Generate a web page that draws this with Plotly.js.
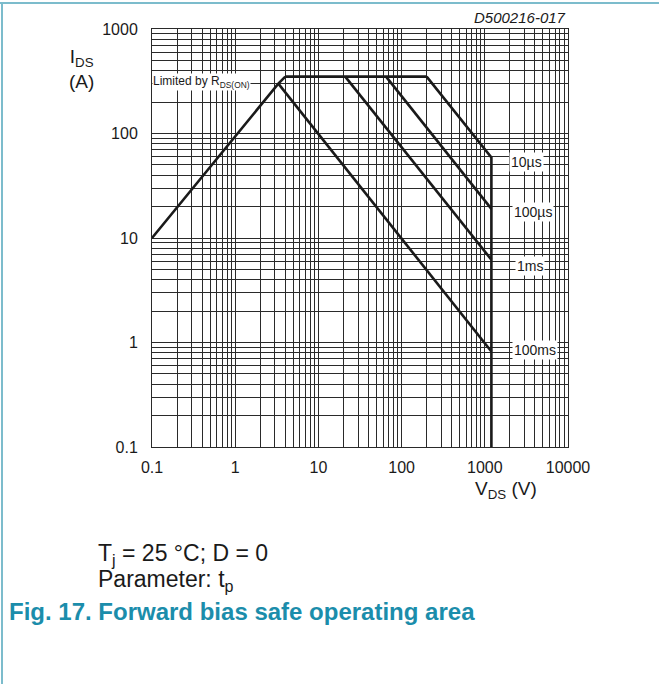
<!DOCTYPE html>
<html>
<head>
<meta charset="utf-8">
<script src="https://cdn.plot.ly/plotly-3.0.1.min.js"></script>
<style>
  html, body { margin:0; padding:0; background:#fff; }
  #wrap { position:relative; width:659px; height:684px; overflow:hidden; }
  #chart { position:absolute; left:0; top:0; width:659px; height:684px; }
  #bt { position:absolute; left:0; top:2px; width:659px; height:2px; background:#7cbccc; }
  #bl { position:absolute; left:1px; top:2px; width:2px; height:684px; background:#7cbccc; }
</style>
</head>
<body>
<div id="wrap"><div id="chart"></div><div id="bt"></div><div id="bl"></div></div>
<script>
// ---- data (V in volts, I in amperes) ----
const rdsonV  = [0.1, 3.3, 4.0];
const rdsonI  = [10, 300, 350];
const plateauV = [4.0, 200];
const plateauI = [350, 350];
const v10us  = [200, 1200, 1200];
const i10us  = [350, 59, 0.1];
const v100us = [65, 1200];
const i100us = [350, 19];
const v1ms   = [21, 1200];
const i1ms   = [350, 6.2];
const v100ms = [3.3, 1200];
const i100ms = [300, 0.82];

const curveLabels = ["10µs", "100µs", "1ms", "100ms"];
const labelV = [3200, 3800, 3450, 3980];
const labelI = [53.8, 17.8, 5.35, 0.853];

const xTickVals = [0.1, 1, 10, 100, 1000, 10000];
const xTickText = ["0.1", "1", "10", "100", "1000", "10000"];
const yTickVals = [0.1, 1, 10, 100, 1000];
const yTickText = ["0.1", "1", "10", "100", "1000"];

const lineStyle = {color:'#1a1a1a', width:2.6};
const series = [
  [rdsonV, rdsonI], [plateauV, plateauI], [v10us, i10us],
  [v100us, i100us], [v1ms, i1ms], [v100ms, i100ms]
];
const traces = series.map(s => ({
  x: s[0], y: s[1], type:'scatter', mode:'lines',
  line: lineStyle, hoverinfo:'skip', showlegend:false
}));

const font = "Liberation Sans, Arial, sans-serif";
const gridC = '#2a2a2a';
const txtC = '#1a1a1a';

const L = 152, T = 29, W = 416, H = 418;
function px(x){ return (x - L)/W; }
function py(y){ return 1 - (y - T)/H; }

const annotations = curveLabels.map((t, k) => ({
  x: Math.log10(labelV[k]), y: Math.log10(labelI[k]), xref:'x', yref:'y',
  xanchor:'center', yanchor:'middle',
  text: t, showarrow:false, bgcolor:'#ffffff', borderpad:1,
  font:{family:font, size:14, color:txtC}
}));
annotations.push(
  {x:0, y:Math.log10(311), xref:'paper', yref:'y', xanchor:'left', yanchor:'middle',
   text:'Limited by R<sub>DS(ON)</sub>', showarrow:false, bgcolor:'#ffffff', borderpad:0,
   font:{family:font, size:12, color:txtC}},
  {x:1, y:1, xref:'paper', yref:'paper', xanchor:'right', yanchor:'bottom', yshift:1,
   text:'<i>D500216-017</i>', showarrow:false, font:{family:font, size:15, color:txtC}},
  {x:px(81), y:py(69), xref:'paper', yref:'paper', xanchor:'center', yanchor:'middle',
   text:'I<sub>DS</sub><br>(A)', showarrow:false,
   align:'center', font:{family:font, size:19, color:txtC}},
  {x:px(506), y:py(490), xref:'paper', yref:'paper', xanchor:'center', yanchor:'middle',
   text:'V<sub>DS</sub> (V)', showarrow:false,
   font:{family:font, size:19, color:txtC}},
  {x:px(96), y:py(554), xref:'paper', yref:'paper', xanchor:'left', yanchor:'middle',
   text:'T<sub>j</sub> = 25 °C; D = 0', showarrow:false,
   font:{family:font, size:23, color:txtC}},
  {x:px(96), y:py(580), xref:'paper', yref:'paper', xanchor:'left', yanchor:'middle',
   text:'Parameter: t<sub>p</sub>', showarrow:false,
   font:{family:font, size:23, color:txtC}},
  {x:px(7), y:py(611), xref:'paper', yref:'paper', xanchor:'left', yanchor:'middle',
   text:'<b>Fig. 17. Forward bias safe operating area</b>', showarrow:false,
   font:{family:font, size:24, color:'#1b8dab'}}
);

const layout = {
  width:659, height:684,
  margin:{l:L, r:659-L-W, t:T, b:684-T-H, pad:0},
  paper_bgcolor:'#ffffff', plot_bgcolor:'#ffffff',
  showlegend:false,
  xaxis:{type:'log', range:[-1,4], tickmode:'array', tickvals:xTickVals, ticktext:xTickText,
    showgrid:true, gridcolor:gridC, gridwidth:1, zeroline:false,
    showline:true, linecolor:gridC, linewidth:1, mirror:true, ticks:'', ticklabelstandoff:6,
    tickfont:{family:font, size:16, color:txtC},
    minor:{dtick:'D1', showgrid:true, gridcolor:gridC, gridwidth:1, ticks:''}},
  yaxis:{type:'log', range:[-1,3], tickmode:'array', tickvals:yTickVals, ticktext:yTickText,
    showgrid:true, gridcolor:gridC, gridwidth:1, zeroline:false,
    showline:true, linecolor:gridC, linewidth:1, mirror:true, ticks:'', ticklabelstandoff:10,
    tickfont:{family:font, size:16, color:txtC},
    minor:{dtick:'D1', showgrid:true, gridcolor:gridC, gridwidth:1, ticks:''}},
  annotations: annotations
};

Plotly.newPlot('chart', traces, layout, {displayModeBar:false, staticPlot:true});
</script>
</body>
</html>
